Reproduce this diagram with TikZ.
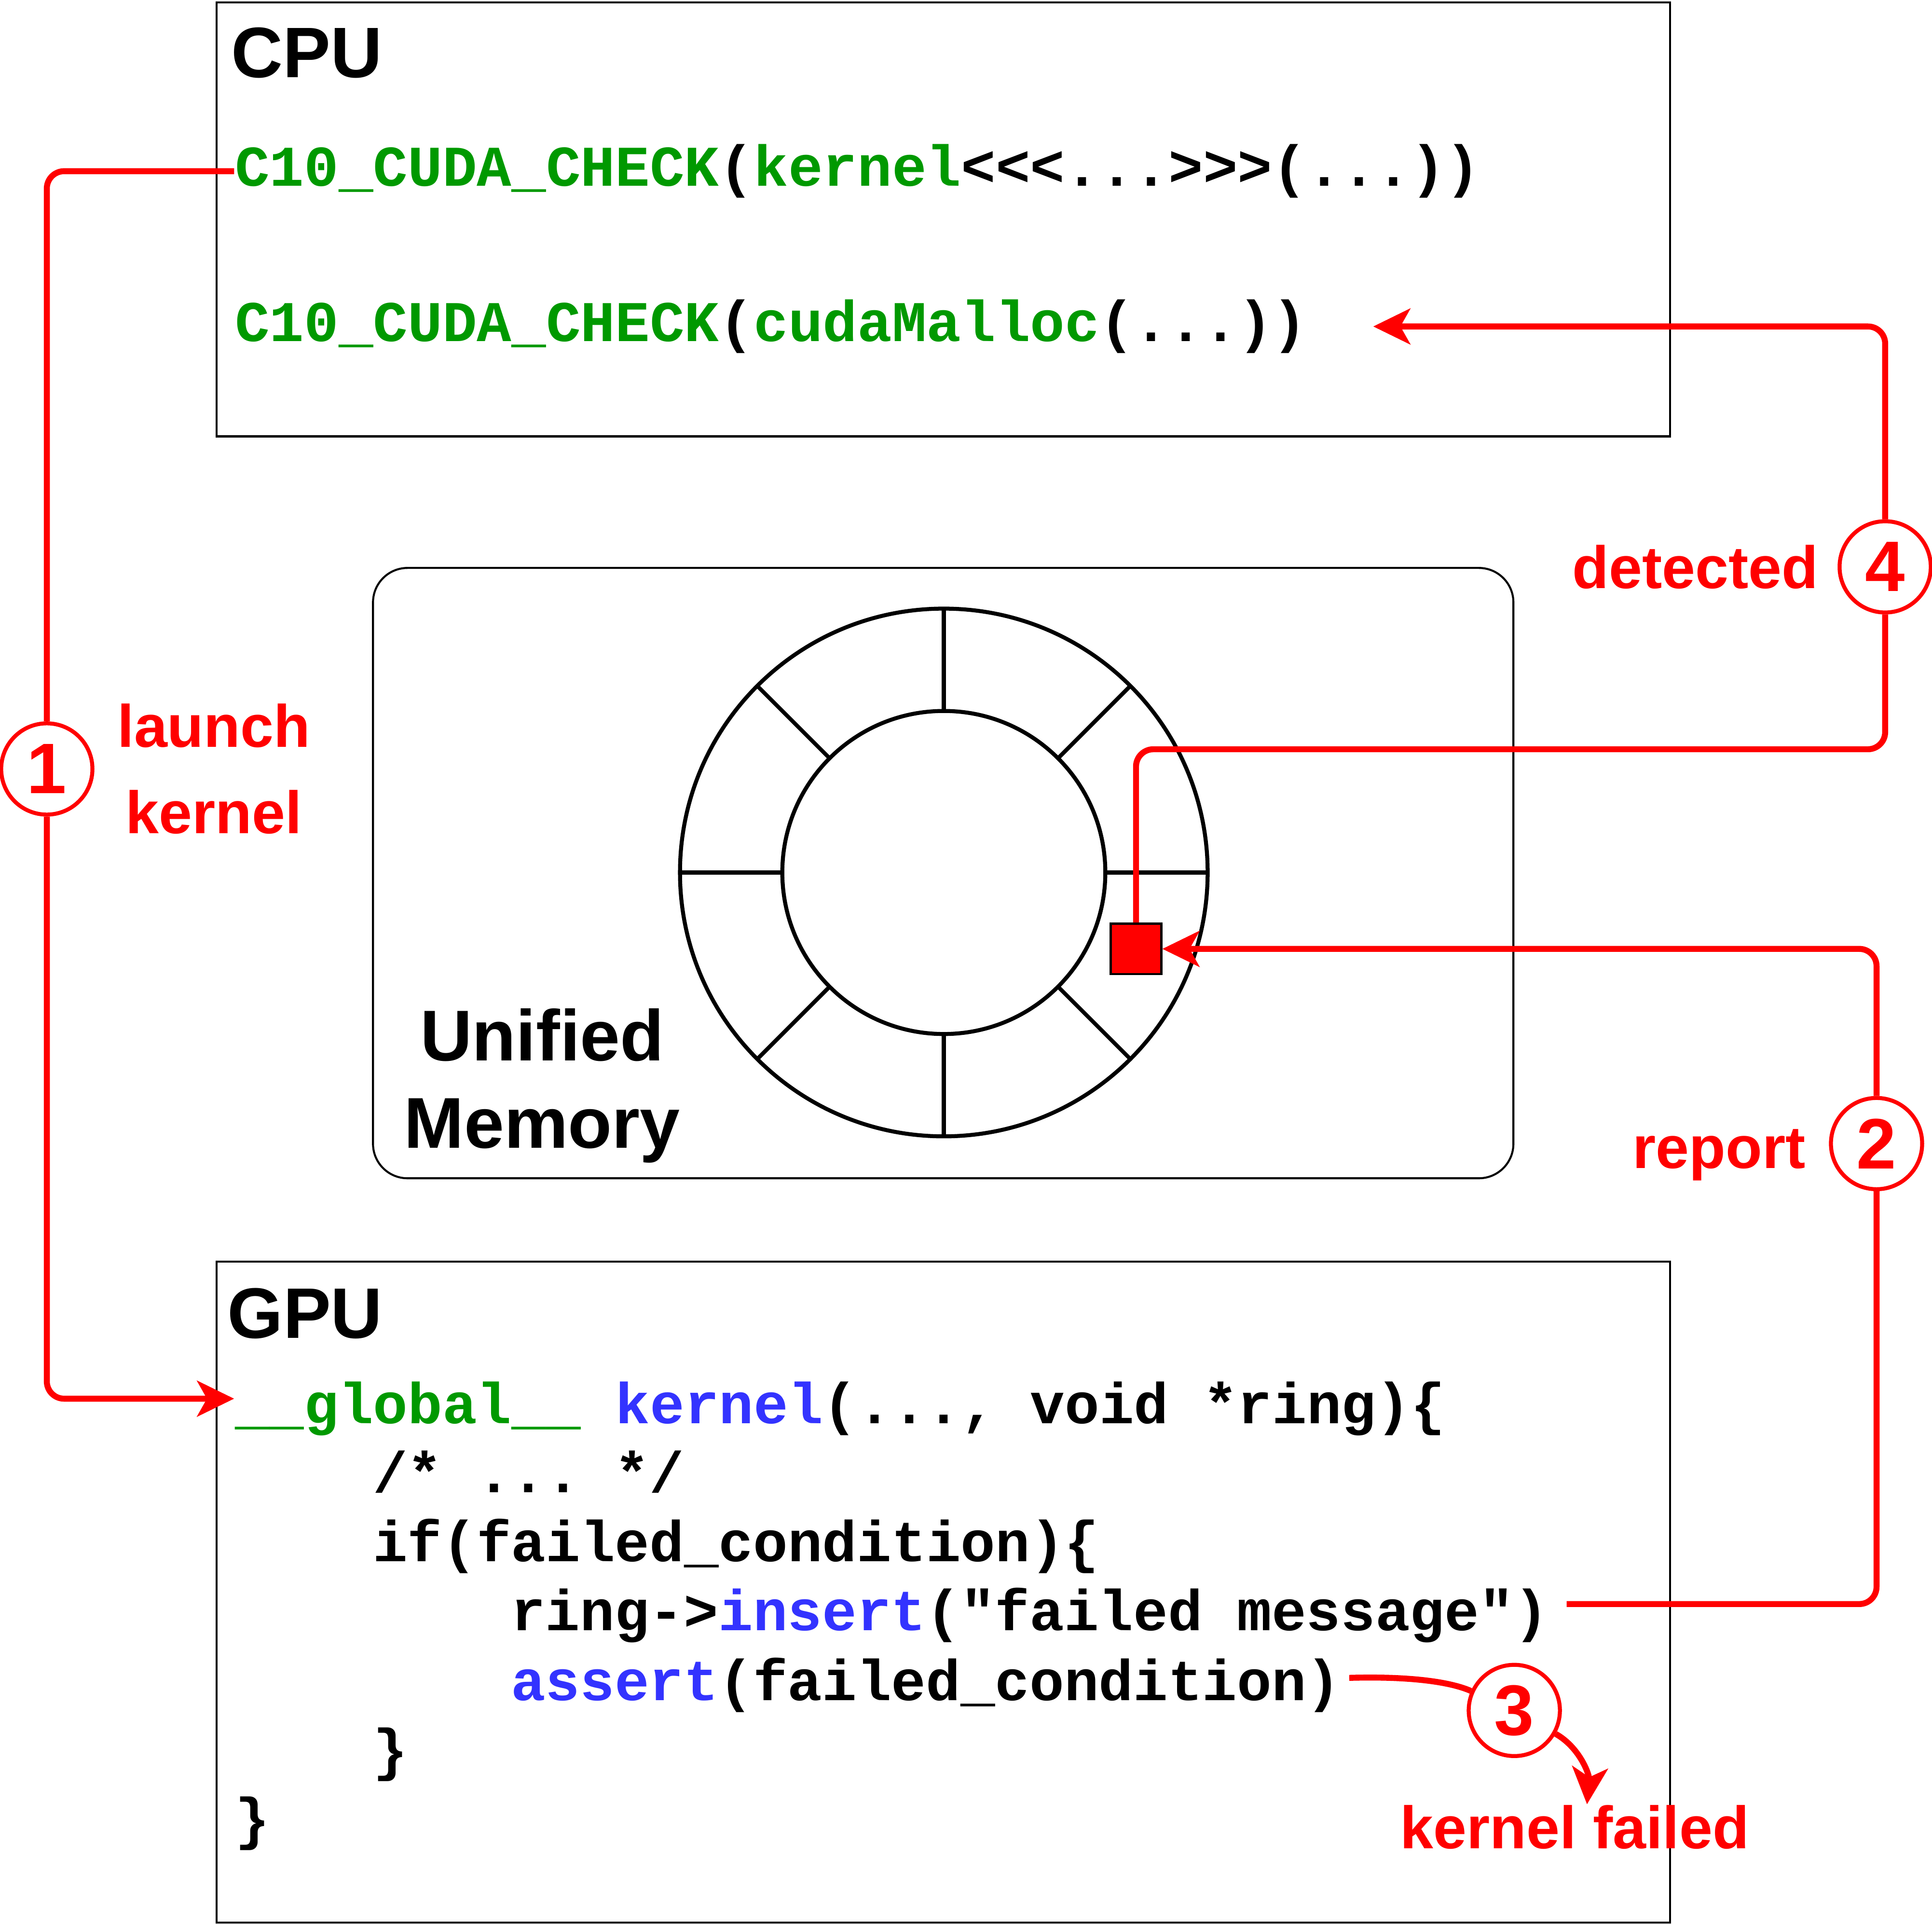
\documentclass[tikz,border=0pt]{standalone}
\usepackage{fontspec}
\setmainfont{Liberation Sans}
\setmonofont{Liberation Mono}
\usetikzlibrary{positioning}
\usetikzlibrary{arrows.meta}
\usepackage{xcolor}
\definecolor{codegreen}{HTML}{009900}
\definecolor{codeblue}{HTML}{3333FF}
\definecolor{alertred}{HTML}{FF0000}

\begin{document}
\begin{tikzpicture}[
		x=0.01cm, y=-0.01cm,
		% Boxes and text styles
		hostbox/.style={draw, line width=0.46pt, minimum width=11.79cm, inner sep=0pt},
		membox/.style={draw, line width=0.46pt, rounded corners=0.28cm, minimum width=9.25cm, minimum height=4.95cm},
		title/.style={font=\bfseries\fontsize{16.5}{20}\selectfont, inner sep=0pt, anchor=base west},
		code/.style={font=\ttfamily\bfseries\fontsize{13.3}{16}\selectfont, inner sep=0pt, anchor=base west},
		ring/.style={line width=0.92pt},
		stepmark/.style={circle, draw=alertred, line width=0.92pt, fill=white, minimum size=0.74cm, inner sep=0pt, text=alertred, font=\bfseries\fontsize{16.5}{20}\selectfont},
		note/.style={text=alertred, font=\bfseries\fontsize{13.8}{19.9}\selectfont, inner sep=0pt, align=center},
		% Red connectors
		flow/.style={draw=alertred, line width=1.38pt, rounded corners=0.14cm},
		arrow/.style={flow, -{Stealth[length=0.3cm, width=0.29cm, inset=0.08cm]}},
		]
		\useasboundingbox (0,0) rectangle (1568,1562);

		% CPU side
		\node[hostbox, minimum height=3.52cm] (cpu) at (765.5,178) {};
		\node[title] (cputitle) at (187,63) {CPU};
		\node[code] (launchsrc) at (190,151) {\textcolor{codegreen}{C10\_CUDA\_CHECK}(\textcolor{codegreen}{kernel}<<<...>>>(...))};
		\node[code] (mallocsrc) at (190,277) {\textcolor{codegreen}{C10\_CUDA\_CHECK}(\textcolor{codegreen}{cudaMalloc}(...))};

		% Unified memory with ring buffer
		\node[membox] (mem) at (765.5,708.5) {};
		\node[title, anchor=center, align=center, font=\bfseries\fontsize{16.6}{20.2}\selectfont] (memlbl) at (440,881) {Unified\\Memory};
		\coordinate (ringc) at (766,708);
		\draw[ring] (ringc) circle[radius=2.14cm];
		\draw[ring] (ringc) circle[radius=1.31cm];
		\foreach \a in {0,45,...,315}
			\draw[ring] (ringc) ++(\a:1.31cm) -- ++(\a:0.83cm);
		\node[draw, fill=alertred, line width=0.5pt, minimum size=0.41cm, inner sep=0pt] (errsq) at (922,770) {};

		% GPU side
		\node[hostbox, minimum height=5.36cm] (gpu) at (765.5,1292) {};
		\node[title] (gputitle) at (184,1086) {GPU};
		\node[code] (gpucode1) at (190,1155) {\textcolor{codegreen}{\_\_global\_\_} \textcolor{codeblue}{kernel}(..., void *ring)\{};
		\node[code] (gpucode2) at (302,1211) {/* ... */};
		\node[code] (gpucode3) at (302,1267) {if(failed\_condition)\{};
		\node[code] (gpucode4) at (414,1323) {ring->\textcolor{codeblue}{insert}("failed message")};
		\node[code] (gpucode5) at (414,1380) {\textcolor{codeblue}{assert}(failed\_condition)};
		\node[code] (gpucode6) at (302,1436) {\}};
		\node[code] (gpucode7) at (190,1492) {\}};

		% Numbered steps
		\node[stepmark] (circ1) at (38,624) {1};
		\node[stepmark] (circ2) at (1523,928) {2};
		\node[stepmark] (circ3) at (1229,1388) {3};
		\node[stepmark] (circ4) at (1530,460) {4};
		\node[note, right=0.18cm of circ1] (launchlbl) {launch\\kernel};
		\node[note, left=0.15cm of circ4] (detlbl) {detected};
		\node[note, anchor=base east] (replbl) at (1466,948) {report};
		\node[note, anchor=base] (faillbl) at (1278,1500) {kernel failed};

		% Connector ends
		\coordinate (insertend) at ([xshift=0.14cm, yshift=0.09cm]gpucode4.east);
		\coordinate (assertend) at ([xshift=0.06cm, yshift=0.06cm]gpucode5.east);
		\coordinate (failtip) at ([xshift=0.1cm]faillbl.north);
		\coordinate (detturn) at (1530,608);
		\coordinate (malloctip) at ([xshift=0.53cm]mallocsrc.east);

		% 1: launch kernel
		\draw[flow] (launchsrc.west) -| (circ1);
		\draw[arrow] (circ1) |- ([yshift=0.08cm]gpucode1.west);

		% 2: report into the ring
		\draw[flow] (insertend) -| (circ2);
		\draw[arrow] (circ2) |- (errsq.east);

		% 3: kernel failed
		\draw[flow] (assertend) .. controls (1150,1360) and (1180,1366) .. (circ3);
		\draw[arrow] (circ3) .. controls (1282,1418) and (1290,1440) .. (failtip);

		% 4: detected on the host
		\draw[flow] (errsq.north) |- (detturn) -- (circ4);
		\draw[arrow] (circ4) |- (malloctip);

	\end{tikzpicture}
\end{document}
